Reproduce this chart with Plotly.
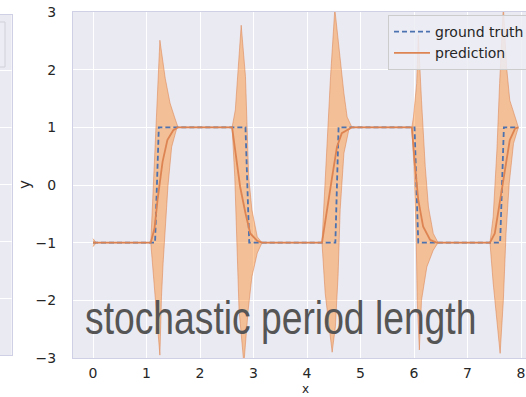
import plotly.graph_objects as go

# ---- data ----
gt_x = [0.0, 1.16, 1.23, 2.85, 2.92, 4.53, 4.59, 6.01, 6.08, 7.61, 7.68, 7.95]
gt_y = [-1, -1, 1, 1, -1, -1, 1, 1, -1, -1, 1, 1]

mean_x = [0.0, 1.08, 1.15, 1.21, 1.30, 1.39, 1.50, 1.59,
          2.60, 2.66, 2.75, 2.85, 2.94, 3.07, 3.16,
          4.28, 4.36, 4.47, 4.56, 4.65, 4.84,
          5.96, 6.02, 6.08, 6.17, 6.30, 6.42,
          7.42, 7.51, 7.61, 7.70, 7.79, 7.89, 7.95]
mean_y = [-1.0, -1.0, -0.75, -0.23, 0.40, 0.78, 0.95, 1.0,
          1.0, 0.61, -0.03, -0.49, -0.84, -0.97, -1.0,
          -1.0, -0.55, 0.14, 0.66, 0.90, 1.0,
          1.0, 0.32, -0.26, -0.72, -0.95, -1.0,
          -1.0, -0.84, -0.26, 0.32, 0.78, 0.98, 1.0]

upper_x = [0.0, 0.06, 1.08, 1.25, 1.35, 1.44, 1.53, 1.59,
           2.60, 2.66, 2.77, 2.85, 2.91, 2.97, 3.07, 3.16,
           4.28, 4.31, 4.37, 4.44, 4.52, 4.62, 4.69, 4.75, 4.84,
           5.96, 5.99, 6.05, 6.08, 6.14, 6.21, 6.27, 6.36, 6.45,
           7.42, 7.48, 7.55, 7.60, 7.67, 7.73, 7.79, 7.89, 7.95]
upper_y = [-0.93, -1.0, -1.0, 2.51, 1.85, 1.42, 1.16, 1.0,
           1.0, 1.30, 2.77, 1.88, 0.14, -0.43, -0.90, -1.0,
           -1.0, -0.43, 0.72, 1.88, 3.05, 2.17, 1.59, 1.18, 1.0,
           1.0, 1.18, 1.76, 2.6, 1.47, 0.32, -0.38, -0.84, -1.0,
           -1.0, -0.55, 0.61, 1.76, 3.1, 2.05, 1.47, 1.18, 1.0]

lower_x = [0.0, 0.06, 1.08, 1.25, 1.28, 1.31, 1.40, 1.47, 1.57,
           2.60, 2.65, 2.69, 2.73, 2.82, 2.90, 2.97, 3.07, 3.16,
           4.28, 4.34, 4.41, 4.47, 4.53, 4.58, 4.62, 4.69, 4.78, 4.84,
           5.96, 6.00, 6.04, 6.06, 6.10, 6.14, 6.24, 6.36, 6.45,
           7.42, 7.48, 7.61, 7.67, 7.72, 7.78, 7.86, 7.95]
lower_y = [-1.07, -1.0, -1.0, -2.95, -1.94, -1.36, -0.03, 0.66, 1.0,
           1.0, 0.14, -1.0, -2.17, -3.1, -2.17, -1.59, -1.18, -1.0,
           -1.0, -1.88, -2.46, -2.9, -2.46, -1.59, -0.43, 0.55, 0.95, 1.0,
           1.0, 0.32, -0.84, -2.0, -2.86, -2.0, -1.42, -1.13, -1.0,
           -1.0, -1.7, -2.92, -2.0, -0.84, 0.03, 0.72, 1.0]

x_ticks = [0, 1, 2, 3, 4, 5, 6, 7, 8]
y_ticks = [-3, -2, -1, 0, 1, 2, 3]
y_tick_labels = ["\u22123", "\u22122", "\u22121", "0", "1", "2", "3"]

W, H = 526, 397
BG = "#eaeaf2"
SPINE = "#cfcfe6"
TXT = "#262626"
FONT = "DejaVu Sans"

fig = go.Figure()

band_x = upper_x + lower_x[::-1]
band_y = upper_y + lower_y[::-1]
fig.add_trace(go.Scatter(x=band_x, y=band_y, mode="lines", fill="toself",
                         fillcolor="rgba(255,127,14,0.40)",
                         line=dict(color="rgba(221,132,82,0.55)", width=1),
                         showlegend=False, hoverinfo="skip"))
fig.add_trace(go.Scatter(x=gt_x, y=gt_y, mode="lines", name="ground truth",
                         line=dict(color="#4c72b0", width=1.8, dash="5px,3px")))
fig.add_trace(go.Scatter(x=mean_x, y=mean_y, mode="lines", name="prediction",
                         line=dict(color="#dd8452", width=1.8)))
# dummy trace for the partially visible left subplot
fig.add_trace(go.Scatter(x=[0.5], y=[0], mode="markers", marker=dict(opacity=0),
                         xaxis="x2", yaxis="y2", showlegend=False, hoverinfo="skip"))

px_per_x = 53.5
x0_px = 73
xmin = (x0_px - 93) / px_per_x
xmax = (W - 93) / px_per_x

fig.update_layout(
    width=W, height=H,
    margin=dict(l=0, r=0, t=12, b=39, autoexpand=False),
    paper_bgcolor="white", plot_bgcolor=BG,
    font=dict(family=FONT, size=14, color=TXT),
    xaxis=dict(domain=[x0_px / W, 1], range=[xmin, xmax], tickvals=x_ticks,
               showgrid=True, gridcolor="white", gridwidth=1, zeroline=False,
               showline=True, linecolor=SPINE, linewidth=1, mirror=True,
               ticks="", ticklabelstandoff=2,
               tickfont=dict(family=FONT, size=14, color=TXT)),
    yaxis=dict(range=[-3, 3], tickvals=y_ticks, ticktext=y_tick_labels,
               showgrid=True, gridcolor="white", gridwidth=1, zeroline=False,
               showline=True, linecolor=SPINE, linewidth=1, mirror=True,
               ticks="", ticklabelstandoff=13,
               tickfont=dict(family=FONT, size=14, color=TXT)),
    xaxis2=dict(domain=[0, 11.5 / W], anchor="y2", range=[0, 1],
                showgrid=False, zeroline=False, showticklabels=False,
                showline=True, linecolor=SPINE, mirror=True),
    yaxis2=dict(domain=[(358 - 355) / 346, (358 - 15) / 346], anchor="x2",
                range=[-1, 4.965], tickvals=[0, 1, 2, 3, 4], showticklabels=False,
                showgrid=True, gridcolor="white", zeroline=False,
                showline=True, linecolor=SPINE, mirror=True),
    legend=dict(x=388 / W, y=(358 - 15) / 346, xanchor="left", yanchor="top",
                bgcolor="rgba(236,236,244,0.85)", bordercolor="#cccccc", borderwidth=1,
                itemwidth=36,
                font=dict(family=FONT, size=14, color=TXT)),
    showlegend=True,
)

fig.add_shape(type="rect", xref="paper", yref="paper",
              x0=-0.02, x1=5 / W, y0=(358 - 67) / 346, y1=(358 - 22) / 346,
              line=dict(color="#d0d0d8", width=1), fillcolor="rgba(236,236,244,0.85)")

fig.add_annotation(x=(83 - 93) / px_per_x, y=-2.3, xref="x", yref="y",
                   text="stochastic period length", showarrow=False,
                   xanchor="left", yanchor="middle",
                   font=dict(family="Liberation Sans", size=46, color="#555555"))
fig.add_annotation(x=25 / W, y=0, xref="paper", yref="y", text="y", textangle=-90,
                   showarrow=False, xanchor="center", yanchor="middle",
                   font=dict(family=FONT, size=15, color=TXT))
fig.add_annotation(x=3.97, y=(358 - 397) / 346, xref="x", yref="paper", text="x",
                   showarrow=False, xanchor="center", yanchor="bottom",
                   borderpad=0,
                   font=dict(family=FONT, size=12, color=TXT))

# narrow the big label horizontally (the reference uses a condensed face)
squeeze_js = """
var gd = document.getElementById('{plot_id}');
gd.querySelectorAll('text.annotation-text').forEach(function(t){
  if (t.textContent.indexOf('stochastic') === 0) {
    var b = t.getBBox();
    var x0 = b.x;
    var prev = t.getAttribute('transform') || '';
    t.setAttribute('transform', prev + ' translate(' + x0 + ',0) scale(0.81,1) translate(' + (-x0) + ',0)');
  }
});
"""

fig.write_html("out.html", post_script=squeeze_js)
